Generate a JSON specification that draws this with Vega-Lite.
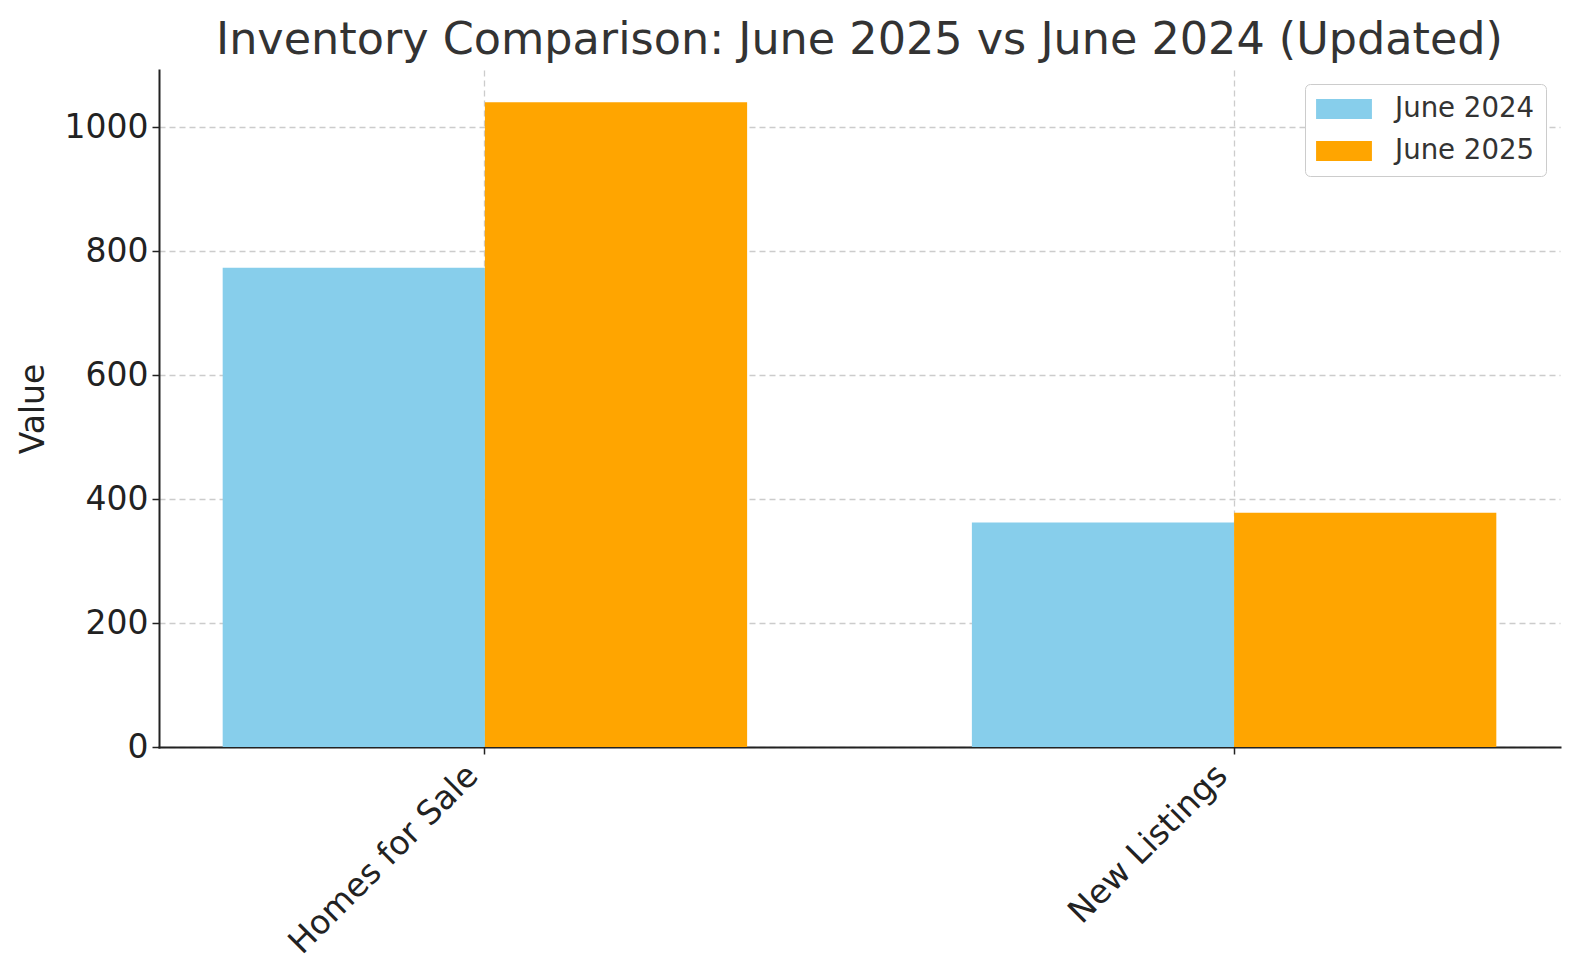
{
  "$schema": "https://vega.github.io/schema/vega-lite/v6.json",
  "autosize": {"type": "none"},
  "width": 1401,
  "height": 677,
  "padding": {"left": 159, "top": 70, "right": 20, "bottom": 233},
  "background": "white",
  "title": {
    "text": "Inventory Comparison: June 2025 vs June 2024 (Updated)",
    "fontSize": 44.5,
    "font": "DejaVu Sans",
    "fontWeight": "normal",
    "color": "#333333",
    "anchor": "middle",
    "offset": 7
  },
  "data": {
    "values": [
      {"category": "Homes for Sale", "period": "June 2024", "value": 773},
      {"category": "Homes for Sale", "period": "June 2025", "value": 1040},
      {"category": "New Listings", "period": "June 2024", "value": 362},
      {"category": "New Listings", "period": "June 2025", "value": 378}
    ]
  },
  "mark": {"type": "bar"},
  "encoding": {
    "x": {
      "field": "category",
      "type": "nominal",
      "sort": null,
      "scale": {"paddingInner": 0.3, "paddingOuter": 0.085},
      "axis": {
        "title": null,
        "labelAngle": -45,
        "labelAlign": "right",
        "labelBaseline": "bottom",
        "labelLimit": 0,
        "labelFont": "DejaVu Sans",
        "labelFontSize": 33,
        "labelColor": "#222222",
        "labelPadding": 28,
        "tickColor": "#222222",
        "tickSize": 7,
        "tickWidth": 1.5,
        "domainColor": "#222222",
        "domainWidth": 2,
        "grid": true,
        "gridDash": [6, 4],
        "gridColor": "#cccccc",
        "gridWidth": 1.3
      }
    },
    "xOffset": {"field": "period", "type": "nominal", "sort": ["June 2024", "June 2025"]},
    "y": {
      "field": "value",
      "type": "quantitative",
      "scale": {"domain": [0, 1092], "nice": false},
      "axis": {
        "title": "Value",
        "titleFont": "DejaVu Sans",
        "titleFontSize": 33,
        "titleFontWeight": "normal",
        "titleColor": "#222222",
        "titlePadding": 14,
        "values": [0, 200, 400, 600, 800, 1000],
        "format": "d",
        "labelFont": "DejaVu Sans",
        "labelFontSize": 33,
        "labelColor": "#222222",
        "labelPadding": 4,
        "tickColor": "#222222",
        "tickSize": 7,
        "tickWidth": 1.5,
        "domainColor": "#222222",
        "domainWidth": 2,
        "grid": true,
        "gridDash": [6, 4],
        "gridColor": "#cccccc",
        "gridWidth": 1.3
      }
    },
    "color": {
      "field": "period",
      "type": "nominal",
      "sort": ["June 2024", "June 2025"],
      "scale": {"domain": ["June 2024", "June 2025"], "range": ["#87CEEB", "#FFA500"]},
      "legend": {
        "title": null,
        "orient": "top-right",
        "offset": 14,
        "labelFont": "DejaVu Sans",
        "labelFontSize": 27.6,
        "labelColor": "#333333",
        "symbolType": "M-2,-0.72L2,-0.72L2,0.72L-2,0.72Z",
        "symbolSize": 780,
        "symbolStrokeWidth": 0,
        "symbolOpacity": 1,
        "symbolOffset": 14,
        "labelOffset": 37,
        "rowPadding": 14,
        "padding": 11,
        "strokeColor": "#cccccc",
        "cornerRadius": 5,
        "fillColor": "white"
      }
    }
  },
  "config": {
    "view": {"stroke": null},
    "axis": {"domainCap": "square"}
  }
}
